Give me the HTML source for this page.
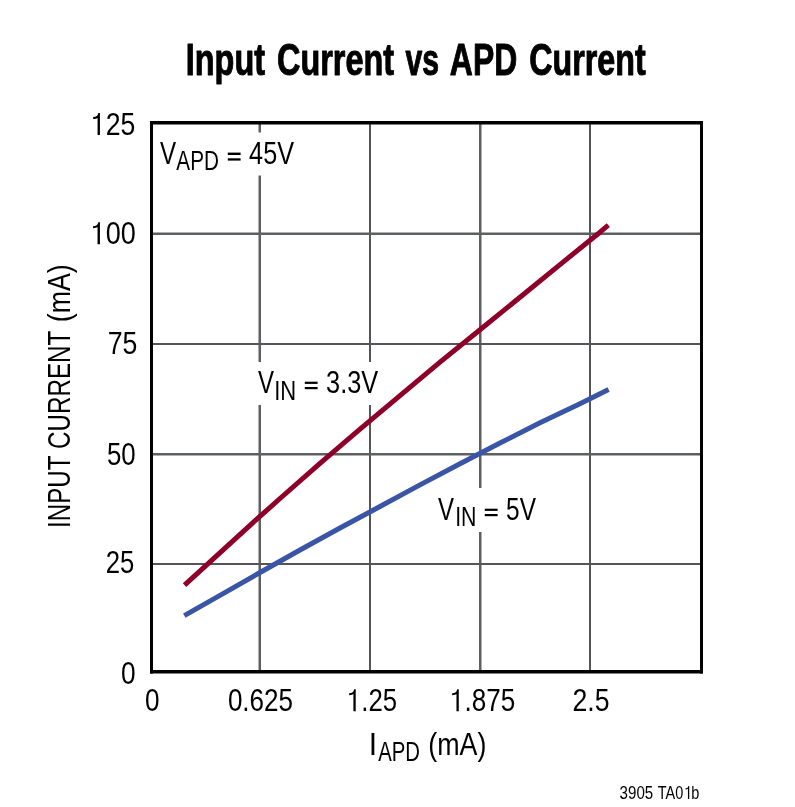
<!DOCTYPE html>
<html><head><meta charset="utf-8">
<style>
html,body{margin:0;padding:0;background:#fff;width:795px;height:807px;overflow:hidden}
svg{display:block;will-change:transform}
text{font-family:"Liberation Sans",sans-serif;fill:#000}
</style></head>
<body>
<svg width="795" height="807" viewBox="0 0 795 807">
<rect x="0" y="0" width="795" height="807" fill="#fff"/>
<g fill="none">
<line x1="259.75" y1="122" x2="259.75" y2="672" stroke="#5d5f63" stroke-width="2.5"/>
<line x1="370" y1="122" x2="370" y2="672" stroke="#545558" stroke-width="2"/>
<line x1="480.25" y1="122" x2="480.25" y2="672" stroke="#5d5f63" stroke-width="2.5"/>
<line x1="590" y1="122" x2="590" y2="672" stroke="#545558" stroke-width="2"/>
<line x1="151" y1="233.75" x2="702" y2="233.75" stroke="#5d5f63" stroke-width="2.5"/>
<line x1="151" y1="344" x2="702" y2="344" stroke="#545558" stroke-width="2"/>
<line x1="151" y1="454.25" x2="702" y2="454.25" stroke="#5d5f63" stroke-width="2.5"/>
<line x1="151" y1="564" x2="702" y2="564" stroke="#545558" stroke-width="2"/>
</g>
<g fill="#fff">
<rect x="156" y="132.5" width="142" height="43"/>
<rect x="254" y="362" width="130" height="43"/>
<rect x="434" y="488" width="106" height="44"/>
</g>
<g fill="#000">
<rect x="150" y="121" width="553" height="3.5"/>
<rect x="150" y="670" width="553" height="3.5"/>
<rect x="150" y="121" width="3" height="552.5"/>
<rect x="700" y="121" width="3" height="552.5"/>
</g>
<polyline fill="none" stroke="#8e0029" stroke-width="5" stroke-linejoin="round" points="184.5,585.2 210,561.8 250,525.3 280,498.5 320,463.3 360,429.2 400,395.6 440,362.2 480,329.7 520,297.3 560,264.6 600,232.2 608.3,225.1"/>
<polyline fill="none" stroke="#3a55a5" stroke-width="5" stroke-linejoin="round" points="184.3,615.55 220,595.3 260,572.5 300,550 340,527.95 380,506.5 420,484.9 460,463.75 500,443 540,422.8 580,403.8 608.6,389.45"/>
<g fill="#000">
<text transform="translate(185.70,74.50) scale(0.7412,1)" font-size="43.8" font-weight="bold" stroke="#000" stroke-width="1.0" stroke-linejoin="round">Input</text>
<text transform="translate(277.04,74.50) scale(0.7396,1)" font-size="43.8" font-weight="bold" stroke="#000" stroke-width="1.0" stroke-linejoin="round">Current</text>
<text transform="translate(405.43,74.50) scale(0.6890,1)" font-size="43.8" font-weight="bold" stroke="#000" stroke-width="1.0" stroke-linejoin="round">vs</text>
<text transform="translate(449.87,74.50) scale(0.7278,1)" font-size="43.8" font-weight="bold" stroke="#000" stroke-width="1.0" stroke-linejoin="round">APD</text>
<text transform="translate(529.35,74.50) scale(0.7358,1)" font-size="43.8" font-weight="bold" stroke="#000" stroke-width="1.0" stroke-linejoin="round">Current</text>
<path transform="translate(90.87,135.07) scale(0.01301,-0.01562)" d="M515,0L696,0L696,1409L570,1409C545,1250 420,1152 175,1152L175,1027C330,1027 440,1050 515,1100Z"/>
<text transform="translate(90.87,135.07) scale(0.8325,1)" font-size="32.0"> 25</text>
<path transform="translate(90.74,244.24) scale(0.01320,-0.01562)" d="M515,0L696,0L696,1409L570,1409C545,1250 420,1152 175,1152L175,1027C330,1027 440,1050 515,1100Z"/>
<text transform="translate(90.74,244.24) scale(0.8450,1)" font-size="32.0"> 00</text>
<text transform="translate(107.63,354.30) scale(0.8341,1)" font-size="32.0">75</text>
<text transform="translate(106.97,465.12) scale(0.8076,1)" font-size="32.0">50</text>
<text transform="translate(105.71,573.22) scale(0.8027,1)" font-size="32.0">25</text>
<text transform="translate(121.07,684.12) scale(0.8204,1)" font-size="32.0">0</text>
<text transform="translate(145.08,711.37) scale(0.8172,1)" font-size="32.0">0</text>
<text transform="translate(227.88,711.22) scale(0.8144,1)" font-size="32.0">0.625</text>
<path transform="translate(346.94,711.17) scale(0.01258,-0.01562)" d="M515,0L696,0L696,1409L570,1409C545,1250 420,1152 175,1152L175,1027C330,1027 440,1050 515,1100Z"/>
<text transform="translate(346.94,711.17) scale(0.8051,1)" font-size="32.0"> .25</text>
<path transform="translate(449.91,711.22) scale(0.01274,-0.01562)" d="M515,0L696,0L696,1409L570,1409C545,1250 420,1152 175,1152L175,1027C330,1027 440,1050 515,1100Z"/>
<text transform="translate(449.91,711.22) scale(0.8152,1)" font-size="32.0"> .875</text>
<text transform="translate(572.46,711.17) scale(0.8331,1)" font-size="32.0">2.5</text>
<text transform="translate(159.89,164.00) scale(0.7549,1)" font-size="32.0">V</text>
<text transform="translate(176.36,169.70) scale(0.7623,1)" font-size="27.2">APD</text>
<rect x="227.8" y="152.6" width="12.80" height="2.40"/>
<rect x="227.8" y="158.3" width="12.80" height="2.30"/>
<text transform="translate(249.12,163.60) scale(0.7884,1)" font-size="32.0">45V</text>
<text transform="translate(258.09,393.10) scale(0.7501,1)" font-size="32.0">V</text>
<text transform="translate(274.17,399.80) scale(0.8099,1)" font-size="27.2">IN</text>
<rect x="304.8" y="381.7" width="12.80" height="2.20"/>
<rect x="304.8" y="387.0" width="12.80" height="2.20"/>
<text transform="translate(326.03,392.90) scale(0.7926,1)" font-size="32.0">3.3V</text>
<text transform="translate(438.09,520.10) scale(0.7501,1)" font-size="32.0">V</text>
<text transform="translate(455.13,525.90) scale(0.7832,1)" font-size="27.2">IN</text>
<rect x="484.8" y="508.7" width="12.80" height="2.20"/>
<rect x="484.8" y="514.0" width="12.80" height="2.20"/>
<text transform="translate(506.12,519.70) scale(0.7635,1)" font-size="32.0">5V</text>
<text transform="translate(368.83,754.80) scale(0.9382,1)" font-size="32.0">I</text>
<text transform="translate(378.16,760.80) scale(0.7476,1)" font-size="27.2">APD</text>
<text transform="translate(428.24,754.80) scale(0.8386,1)" font-size="32.0">(mA)</text>
<text transform="translate(69.94,528.04) rotate(-90) scale(0.7571,1)" font-size="32.0">INPUT CURRENT</text>
<text transform="translate(69.94,322.26) rotate(-90) scale(0.8356,1)" font-size="32.0">(mA)</text>
<text transform="translate(619.62,799.08) scale(0.8058,1)" font-size="18.75">3905</text>
<path transform="translate(684.31,798.90) scale(0.00707,-0.00916)" d="M515,0L696,0L696,1409L570,1409C545,1250 420,1152 175,1152L175,1027C330,1027 440,1050 515,1100Z"/>
<text transform="translate(657.77,798.90) scale(0.7717,1)" font-size="18.75">TA0 b</text>
</g>
</svg>
</body></html>
